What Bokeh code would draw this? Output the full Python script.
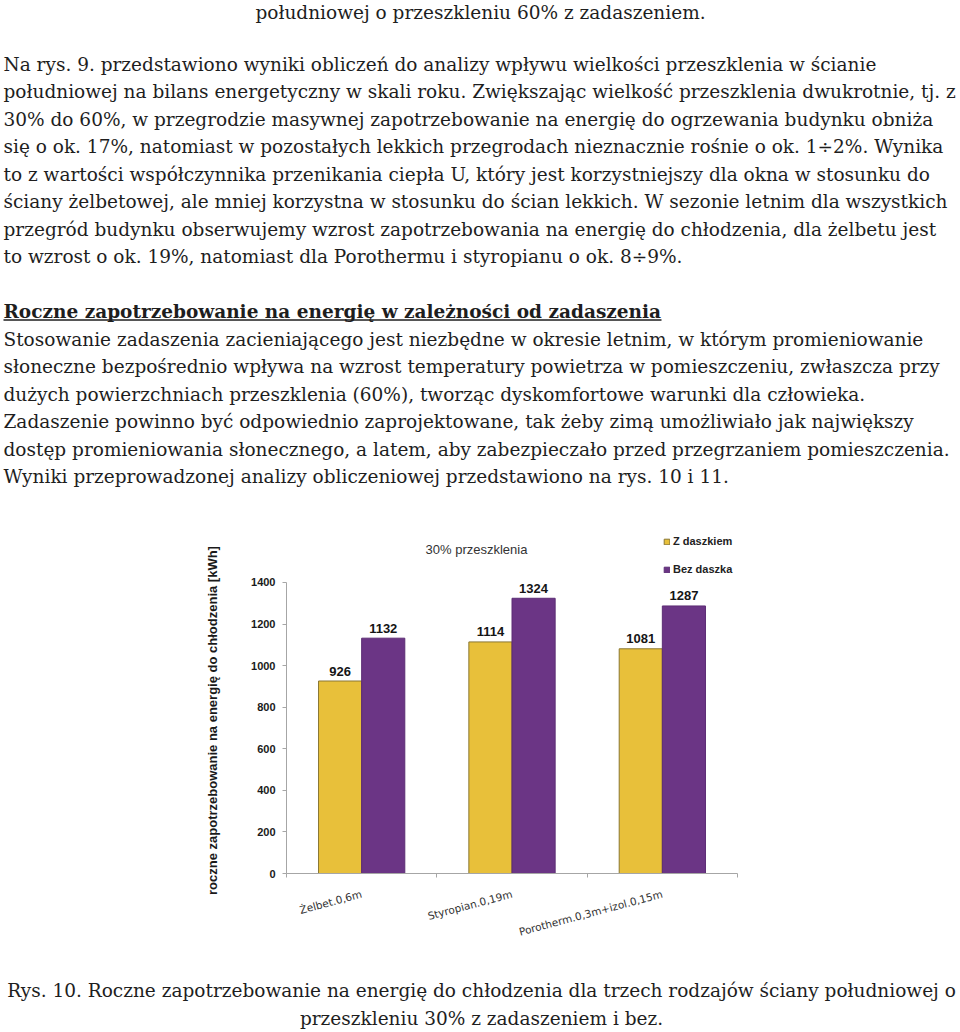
import numpy as np
from bokeh.plotting import figure
from bokeh.models import Range1d, FixedTicker, Legend, LegendItem, Label
from bokeh.layouts import column, row
from bokeh.embed import file_html
from bokeh.resources import INLINE
from bokeh.core.properties import value

# ---------------- data ----------------
categories = ["Żelbet.0,6m", "Styropian.0,19m", "Porotherm.0,3m+izol.0,15m"]
series_names = ["Z daszkiem", "Bez daszka"]
z_daszkiem = [926, 1114, 1081]
bez_daszka = [1132, 1324, 1287]
y_ticks = [0, 200, 400, 600, 800, 1000, 1200, 1400]
chart_title = "30% przeszklenia"
y_label = "roczne zapotrzebowanie na energię do chłodzenia [kWh]"

intro_line = "południowej o przeszkleniu 60% z zadaszeniem."
para1 = [
    "Na rys. 9. przedstawiono wyniki obliczeń do analizy wpływu wielkości przeszklenia w ścianie",
    "południowej na bilans energetyczny w skali roku. Zwiększając wielkość przeszklenia dwukrotnie, tj. z",
    "30% do 60%, w przegrodzie masywnej zapotrzebowanie na energię do ogrzewania budynku obniża",
    "się o ok. 17%, natomiast w pozostałych lekkich przegrodach nieznacznie rośnie o ok. 1÷2%. Wynika",
    "to z wartości współczynnika przenikania ciepła U, który jest korzystniejszy dla okna w stosunku do",
    "ściany żelbetowej, ale mniej korzystna w stosunku do ścian lekkich. W sezonie letnim dla wszystkich",
    "przegród budynku obserwujemy wzrost zapotrzebowania na energię do chłodzenia, dla żelbetu jest",
    "to wzrost o ok. 19%, natomiast dla Porothermu i styropianu o ok. 8÷9%.",
]
heading = "Roczne zapotrzebowanie na energię w zależności od zadaszenia"
para2 = [
    "Stosowanie zadaszenia zacieniającego jest niezbędne w okresie letnim, w którym promieniowanie",
    "słoneczne bezpośrednio wpływa na wzrost temperatury powietrza w pomieszczeniu, zwłaszcza przy",
    "dużych powierzchniach przeszklenia (60%), tworząc dyskomfortowe warunki dla człowieka.",
    "Zadaszenie powinno być odpowiednio zaprojektowane, tak żeby zimą umożliwiało jak największy",
    "dostęp promieniowania słonecznego, a latem, aby zabezpieczało przed przegrzaniem pomieszczenia.",
    "Wyniki przeprowadzonej analizy obliczeniowej przedstawiono na rys. 10 i 11.",
]
caption = [
    "Rys. 10. Roczne zapotrzebowanie na energię do chłodzenia dla trzech rodzajów ściany południowej o",
    "przeszkleniu 30% z zadaszeniem i bez.",
]

# ---------------- styling ----------------
W = 960
SERIF = value("DejaVu Serif")
TXT = "#1e1e1e"
FS = "18.5px"
LH = 27.5
LEFT = 3


def text_fig(x0, y_top, w, h):
    f = figure(width=w, height=h, x_range=Range1d(x0, x0 + w), y_range=Range1d(y_top + h, y_top),
               output_backend="svg", toolbar_location=None, min_border=0,
               x_axis_location=None, y_axis_location=None, frame_align=False)
    f.grid.visible = False
    f.outline_line_color = None
    return f


# ---- top text block (page y 0 .. 530) ----
top = text_fig(0, 0, W, 530)
top.text(x=[480], y=[12], text=[intro_line], text_font=SERIF, text_font_size=FS,
         text_align="center", text_baseline="alphabetic", text_color=TXT)
b1 = [63.5 + LH * i for i in range(len(para1))]
top.text(x=[LEFT] * len(para1), y=b1, text=para1, text_font=SERIF, text_font_size=FS,
         text_align="left", text_baseline="alphabetic", text_color=TXT)
top.text(x=[LEFT], y=[311], text=[heading], text_font=SERIF, text_font_size=FS,
         text_font_style="bold", text_align="left", text_baseline="alphabetic", text_color=TXT)
top.segment(x0=[LEFT], y0=[319.5], x1=[661], y1=[319.5], line_color=TXT, line_width=1.3)
b2 = [311 + LH * (i + 1) for i in range(len(para2))]
top.text(x=[LEFT] * len(para2), y=b2, text=para2, text_font=SERIF, text_font_size=FS,
         text_align="left", text_baseline="alphabetic", text_color=TXT)

# ---- y-axis title panel (page x 0..230, y 530..975) ----
LW = 230
ylab = text_fig(0, 530, LW, 445)
ylab.text(x=[212], y=[720], text=[y_label], angle=np.pi / 2,
          text_font=value("Liberation Sans"), text_font_size="13px", text_font_style="bold",
          text_align="center", text_baseline="middle", text_color="#1a1a1a")

# ---- chart (page x 230..960, y 530 .. 975) ----
chart = figure(width=W - LW, height=445, x_range=Range1d(0, 3), y_range=Range1d(0, 1650),
               output_backend="svg", toolbar_location=None, frame_align=False,
               min_border_left=286 - LW, min_border_right=W - 286 - 451,
               min_border_top=0, min_border_bottom=102)
chart.grid.visible = False
chart.outline_line_color = None

idx = np.arange(len(categories)) + 0.5
bw = 0.287
r1 = chart.vbar(x=idx - bw / 2, top=z_daszkiem, width=bw, fill_color="#E8C03A",
                line_color="#8a7733", line_width=1)
r2 = chart.vbar(x=idx + bw / 2, top=bez_daszka, width=bw, fill_color="#6B3585",
                line_color="#5c2d74", line_width=1)

lab_font = value("Liberation Sans")
chart.text(x=idx - bw / 2, y=z_daszkiem, text=[str(v) for v in z_daszkiem], text_font=lab_font,
           text_font_size="13px", text_font_style="bold", text_align="center",
           text_baseline="alphabetic", y_offset=-10, text_color="#151515")
chart.text(x=idx + bw / 2, y=bez_daszka, text=[str(v) for v in bez_daszka], text_font=lab_font,
           text_font_size="13px", text_font_style="bold", text_align="center",
           text_baseline="alphabetic", y_offset=-10, text_color="#151515")

chart.add_layout(Label(x=190, y=324, x_units="screen", y_units="screen", text=chart_title,
                       text_font="Liberation Sans", text_font_size="13px", text_color="#333333",
                       text_align="center", text_baseline="alphabetic"))

# x axis
xa = chart.xaxis[0]
xa.ticker = FixedTicker(ticks=list(idx), minor_ticks=list(range(len(categories) + 1)))
xa.major_label_overrides = {float(i + 0.5): c for i, c in enumerate(categories)}
xa.major_label_orientation = np.deg2rad(15)
xa.major_tick_out = 0
xa.major_tick_in = 0
xa.minor_tick_out = 4
xa.minor_tick_in = 0
xa.minor_tick_line_color = "#a6a6a6"
xa.axis_line_color = "#a6a6a6"
xa.major_label_standoff = 16
xa.major_label_text_font = "DejaVu Sans"
xa.major_label_text_font_size = "10.5px"
xa.major_label_text_color = "#333333"

# y axis
ya = chart.yaxis[0]
ya.ticker = FixedTicker(ticks=y_ticks)
ya.bounds = (0, 1400)
ya.axis_line_color = "#a6a6a6"
ya.major_tick_line_color = "#a6a6a6"
ya.major_tick_out = 4
ya.major_tick_in = 0
ya.minor_tick_out = 0
ya.minor_tick_in = 0
ya.major_label_standoff = 7
ya.major_label_text_font = "Liberation Sans"
ya.major_label_text_font_size = "11px"
ya.major_label_text_font_style = "bold"
ya.major_label_text_color = "#1a1a1a"

legend = Legend(items=[LegendItem(label=series_names[0], renderers=[r1]),
                       LegendItem(label=series_names[1], renderers=[r2])],
                location=(377, 294), orientation="vertical", padding=0, margin=0, spacing=8,
                label_height=20, glyph_width=7, glyph_height=7, label_standoff=3,
                border_line_color=None, background_fill_alpha=0,
                label_text_font="Liberation Sans", label_text_font_size="11px",
                label_text_font_style="bold", label_text_color="#222222")
chart.add_layout(legend)

# ---- caption (page y 975 .. 1032) ----
cap = text_fig(0, 975, W, 57)
cap.text(x=[481, 481], y=[990, 1018], text=caption, text_font=SERIF, text_font_size=FS,
         text_align="center", text_baseline="alphabetic", text_color=TXT)

page = column(top, row(ylab, chart, spacing=0), cap, spacing=0)
open("out.html", "w").write(file_html(page, INLINE))
